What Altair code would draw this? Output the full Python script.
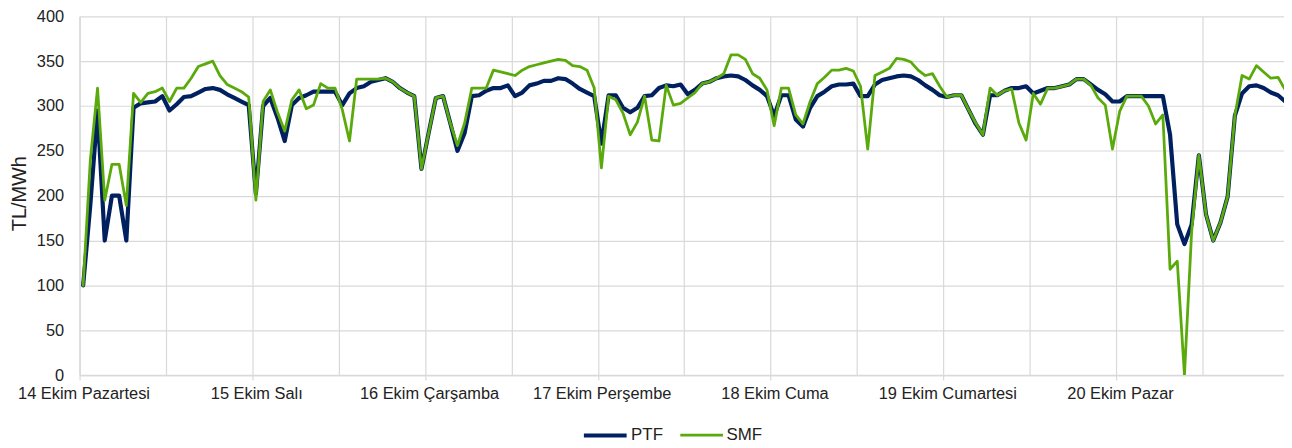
import altair as alt
import pandas as pd

day_labels = ["14 Ekim Pazartesi", "15 Ekim Salı", "16 Ekim Çarşamba", "17 Ekim Perşembe",
              "18 Ekim Cuma", "19 Ekim Cumartesi", "20 Ekim Pazar"]

ptf = [
    100, 190, 295, 150, 200, 200, 150, 298, 303, 304, 305, 311, 295, 302, 310, 311, 315, 319, 320, 318, 313, 309, 305, 301,
    202, 300, 309, 287, 261, 301, 309, 312, 316, 316, 316, 316, 301, 314, 320, 322, 327, 329, 331, 327, 320, 315, 311, 230,
    270, 309, 311, 281, 250, 270, 311, 312, 317, 320, 320, 323, 311, 315, 323, 325, 328, 328, 331, 330, 325, 319, 315, 311,
    258, 312, 312, 298, 293, 298, 311, 312, 320, 323, 322, 324, 313, 318, 325, 327, 331, 333, 334, 333, 329, 323, 318, 311,
    289, 312, 312, 285, 277, 298, 311, 316, 322, 324, 324, 325, 311, 311, 324, 329, 331, 333, 334, 333, 329, 323, 318, 312,
    310, 312, 312, 296, 280, 268, 312, 312, 317, 320, 320, 322, 314, 317, 320, 320, 322, 324, 330, 330, 324, 318, 313, 305,
    305, 311, 311, 311, 311, 311, 311, 268, 168, 146, 168, 245, 179, 150, 170, 199, 289, 314, 322, 323, 320, 315, 312, 305,
]

smf = [
    100, 240, 320, 195, 235, 235, 189, 314, 304, 314, 316, 320, 305, 320, 320, 331, 344, 347, 350, 334, 324, 320, 316, 310,
    195, 305, 318, 293, 272, 307, 318, 297, 301, 325, 320, 320, 296, 261, 330, 330, 330, 330, 331, 327, 320, 315, 311, 230,
    270, 309, 311, 281, 256, 281, 320, 320, 320, 340, 338, 336, 334, 340, 344, 346, 348, 350, 352, 351, 345, 344, 340, 320,
    231, 311, 307, 292, 268, 282, 311, 262, 261, 323, 301, 303, 309, 315, 325, 327, 331, 336, 357, 357, 352, 336, 331, 318,
    278, 320, 320, 290, 280, 305, 325, 332, 340, 340, 342, 339, 322, 252, 334, 338, 342, 353, 352, 349, 340, 334, 336, 322,
    310, 312, 312, 296, 281, 268, 320, 312, 317, 319, 281, 262, 314, 302, 320, 320, 322, 324, 330, 330, 323, 309, 301, 252,
    294, 311, 311, 311, 300, 280, 290, 118, 127, 0, 160, 245, 179, 150, 170, 199, 289, 334, 330, 345, 338, 331, 332, 318,
]

series_names = ["PTF", "SMF"]
series_colors = ["#002060", "#5BAA0C"]

rows = []
for name, vals in zip(series_names, [ptf, smf]):
    for h, v in enumerate(vals):
        rows.append({"x": h + 0.5, "value": v, "series": name})
df = pd.DataFrame(rows)

label_arr = "[" + ",".join("'" + s + "'" for s in day_labels) + "]"
label_expr = f"(datum.value % 24 === 0 && datum.value < 168) ? {label_arr}[datum.value / 24] : ''"

x_axis = alt.Axis(
    values=list(range(0, 169, 12)),
    title=None,
    grid=True,
    gridColor="#D9D9D9",
    gridWidth=1.2,
    domain=True,
    domainColor="#D9D9D9",
    domainWidth=1.5,
    ticks=True,
    tickSize=5,
    tickColor="#D9D9D9",
    tickWidth=1.2,
    tickOpacity={"condition": {"test": "datum.value % 24 === 0", "value": 1}, "value": 0},
    labelExpr=label_expr,
    labelOffset=4,
    labelPadding=6,
    labelFontSize=16.5,
    labelColor="#222222",
    labelOverlap=False,
    labelFlush=False,
    labelBound=False,
)

y_axis = alt.Axis(
    values=list(range(0, 401, 50)),
    title="TL/MWh",
    titleFontSize=20,
    titleFontWeight="normal",
    titleColor="#222222",
    titleX=-54,
    titleY=178,
    titleAlign="center",
    titleBaseline="alphabetic",
    titleAngle=-90,
    grid=True,
    gridColor="#D9D9D9",
    gridWidth=1.2,
    domain=True,
    domainColor="#D9D9D9",
    domainWidth=1.5,
    ticks=False,
    labelPadding=16,
    labelFontSize=16.5,
    labelColor="#222222",
)

legend = alt.Legend(
    title=None,
    orient="none",
    legendX=505,
    legendY=397.5,
    direction="horizontal",
    symbolType="stroke",
    symbolSize=1849,
    labelFontSize=17,
    labelColor="#222222",
    labelOffset=2,
    columnPadding=10,
    padding=0,
)

chart = alt.Chart(df).mark_line(clip=True, strokeJoin="round", strokeCap="round").encode(
    x=alt.X("x:Q", scale=alt.Scale(domain=[0, 167.33], nice=False, zero=False), axis=x_axis),
    y=alt.Y("value:Q", scale=alt.Scale(domain=[0, 400], nice=False), axis=y_axis),
    color=alt.Color("series:N", scale=alt.Scale(domain=series_names, range=series_colors), legend=legend),
    strokeWidth=alt.StrokeWidth("series:N", scale=alt.Scale(domain=series_names, range=[4.2, 2.8]), legend=legend),
).properties(
    width=1212,
    height=361,
    autosize=alt.AutoSizeParams(type="none"),
    padding={"left": 72, "top": 7, "right": 0, "bottom": 70},
).configure(
    font="Liberation Sans",
).configure_view(stroke=None)

chart.save("out.html", embed_options={"renderer": "svg", "actions": False})
